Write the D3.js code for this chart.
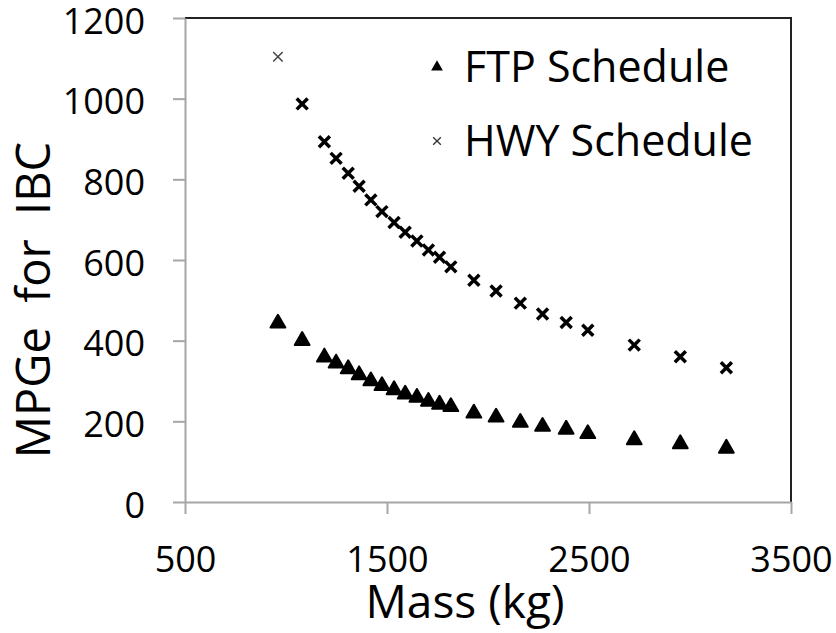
<!DOCTYPE html>
<html lang="en">
<head>
    <meta charset="UTF-8">
    <title>MPGe for IBC vs Mass</title>
    <style>
        body {
            margin: 0;
            background-color: white;
        }
        svg text {
            font-family: "Open Sans", sans-serif;
            fill: #000;
        }
    </style>
    <script src="https://d3js.org/d3.v7.min.js"></script>
</head>
<body>
    <svg id="chart" width="836" height="633"></svg>

    <script>
        // vehicle mass (kg) for each simulated case
        const massKg = [960, 1080, 1190, 1248, 1308, 1362, 1420, 1475, 1535, 1590, 1648, 1705, 1760, 1816,
                        1930, 2040, 2160, 2270, 2387, 2494, 2724, 2952, 3180];
        const ftpMpge = [443, 400, 359, 344, 330, 315, 300, 288, 278, 267, 259, 249, 242, 236,
                         220, 210, 197, 187, 180, 169, 154, 144, 133];
        const hwyMpge = [1104, 987, 893, 852, 815, 783, 749, 720, 693, 669, 647, 625, 607, 583,
                         550, 523, 493, 466, 445, 426, 389, 360, 333];
        const xTicks = [500, 1500, 2500, 3500];
        const yTicks = [0, 200, 400, 600, 800, 1000, 1200];
        const seriesNames = ["FTP Schedule", "HWY Schedule"];

        const svg = d3.select("#chart"),
              width = +svg.attr("width"),
              height = +svg.attr("height"),
              margin = { top: 18, right: 45, bottom: 131, left: 185 };

        svg.append("rect").attr("width", width).attr("height", height).attr("fill", "white");

        const x = d3.scaleLinear().domain([500, 3500]).range([margin.left, width - margin.right]);
        const y = d3.scaleLinear().domain([0, 1200]).range([height - margin.bottom, margin.top]);

        // top and right border of the plot area
        svg.append("path")
           .attr("d", `M${x(500)},${y(1200)}H${x(3500)}V${y(0)}`)
           .attr("fill", "none")
           .attr("stroke", "#222")
           .attr("stroke-width", 2);

        const yAxis = svg.append("g")
                         .attr("transform", `translate(${margin.left},0)`)
                         .call(d3.axisLeft(y).tickValues(yTicks).tickFormat(d3.format("d"))
                                 .tickSize(12).tickSizeOuter(0).tickPadding(28));

        const xAxis = svg.append("g")
                         .attr("transform", `translate(0,${height - margin.bottom})`)
                         .call(d3.axisBottom(x).tickValues(xTicks).tickFormat(d3.format("d"))
                                 .tickSize(12).tickSizeOuter(0).tickPadding(32));

        [yAxis, xAxis].forEach(g => {
            g.select(".domain").attr("stroke", "#a6a6a6").attr("stroke-width", 2);
            g.selectAll(".tick line").attr("stroke", "#a6a6a6").attr("stroke-width", 2);
            g.selectAll(".tick text")
             .attr("font-family", "Open Sans, sans-serif")
             .attr("font-size", 36)
             .attr("fill", "#000");
        });
        yAxis.selectAll(".tick text").attr("dy", "0.42em");

        // axis titles
        svg.append("text")
           .attr("x", 465)
           .attr("y", 618)
           .attr("text-anchor", "middle")
           .attr("font-size", 46)
           .text("Mass (kg)");

        svg.append("text")
           .attr("transform", `translate(50,300) rotate(-90)`)
           .attr("text-anchor", "middle")
           .attr("font-size", 47)
           .style("white-space", "pre")
           .text("MPGe  for  IBC");

        // series
        const tri = d3.symbol().type(d3.symbolTriangle).size(95);
        const cross = d3.symbol().type(d3.symbolX);

        svg.append("g")
           .selectAll("path")
           .data(massKg)
           .enter().append("path")
           .attr("d", tri)
           .attr("transform", (d, i) => `translate(${x(d)},${y(ftpMpge[i])})`)
           .attr("fill", "#000")
           .attr("stroke", "#000")
           .attr("stroke-width", 2)
           .attr("stroke-linejoin", "round");

        svg.append("g")
           .selectAll("path")
           .data(massKg)
           .enter().append("path")
           .attr("d", (d, i) => cross.size(i === 0 ? 60 : 80)())
           .attr("transform", (d, i) => `translate(${x(d)},${y(hwyMpge[i])})`)
           .attr("fill", "none")
           .attr("stroke", (d, i) => i === 0 ? "#444" : "#000")
           .attr("stroke-width", (d, i) => i === 0 ? 1.5 : 3.5);

        // legend
        const legend = svg.append("g");
        const rows = legend.selectAll("g")
                           .data(seriesNames)
                           .enter().append("g")
                           .attr("transform", (d, i) => `translate(437,${67 + i * 74})`);

        rows.append("path")
            .attr("d", (d, i) => i === 0 ? d3.symbol().type(d3.symbolTriangle).size(60)()
                                         : d3.symbol().type(d3.symbolX).size(40)())
            .attr("fill", (d, i) => i === 0 ? "#000" : "none")
            .attr("stroke", (d, i) => i === 0 ? "none" : "#333")
            .attr("stroke-width", 1.3);

        rows.append("text")
            .attr("x", 27)
            .attr("dy", "0.35em")
            .attr("font-size", 43)
            .text(d => d);
    </script>
</body>
</html>
